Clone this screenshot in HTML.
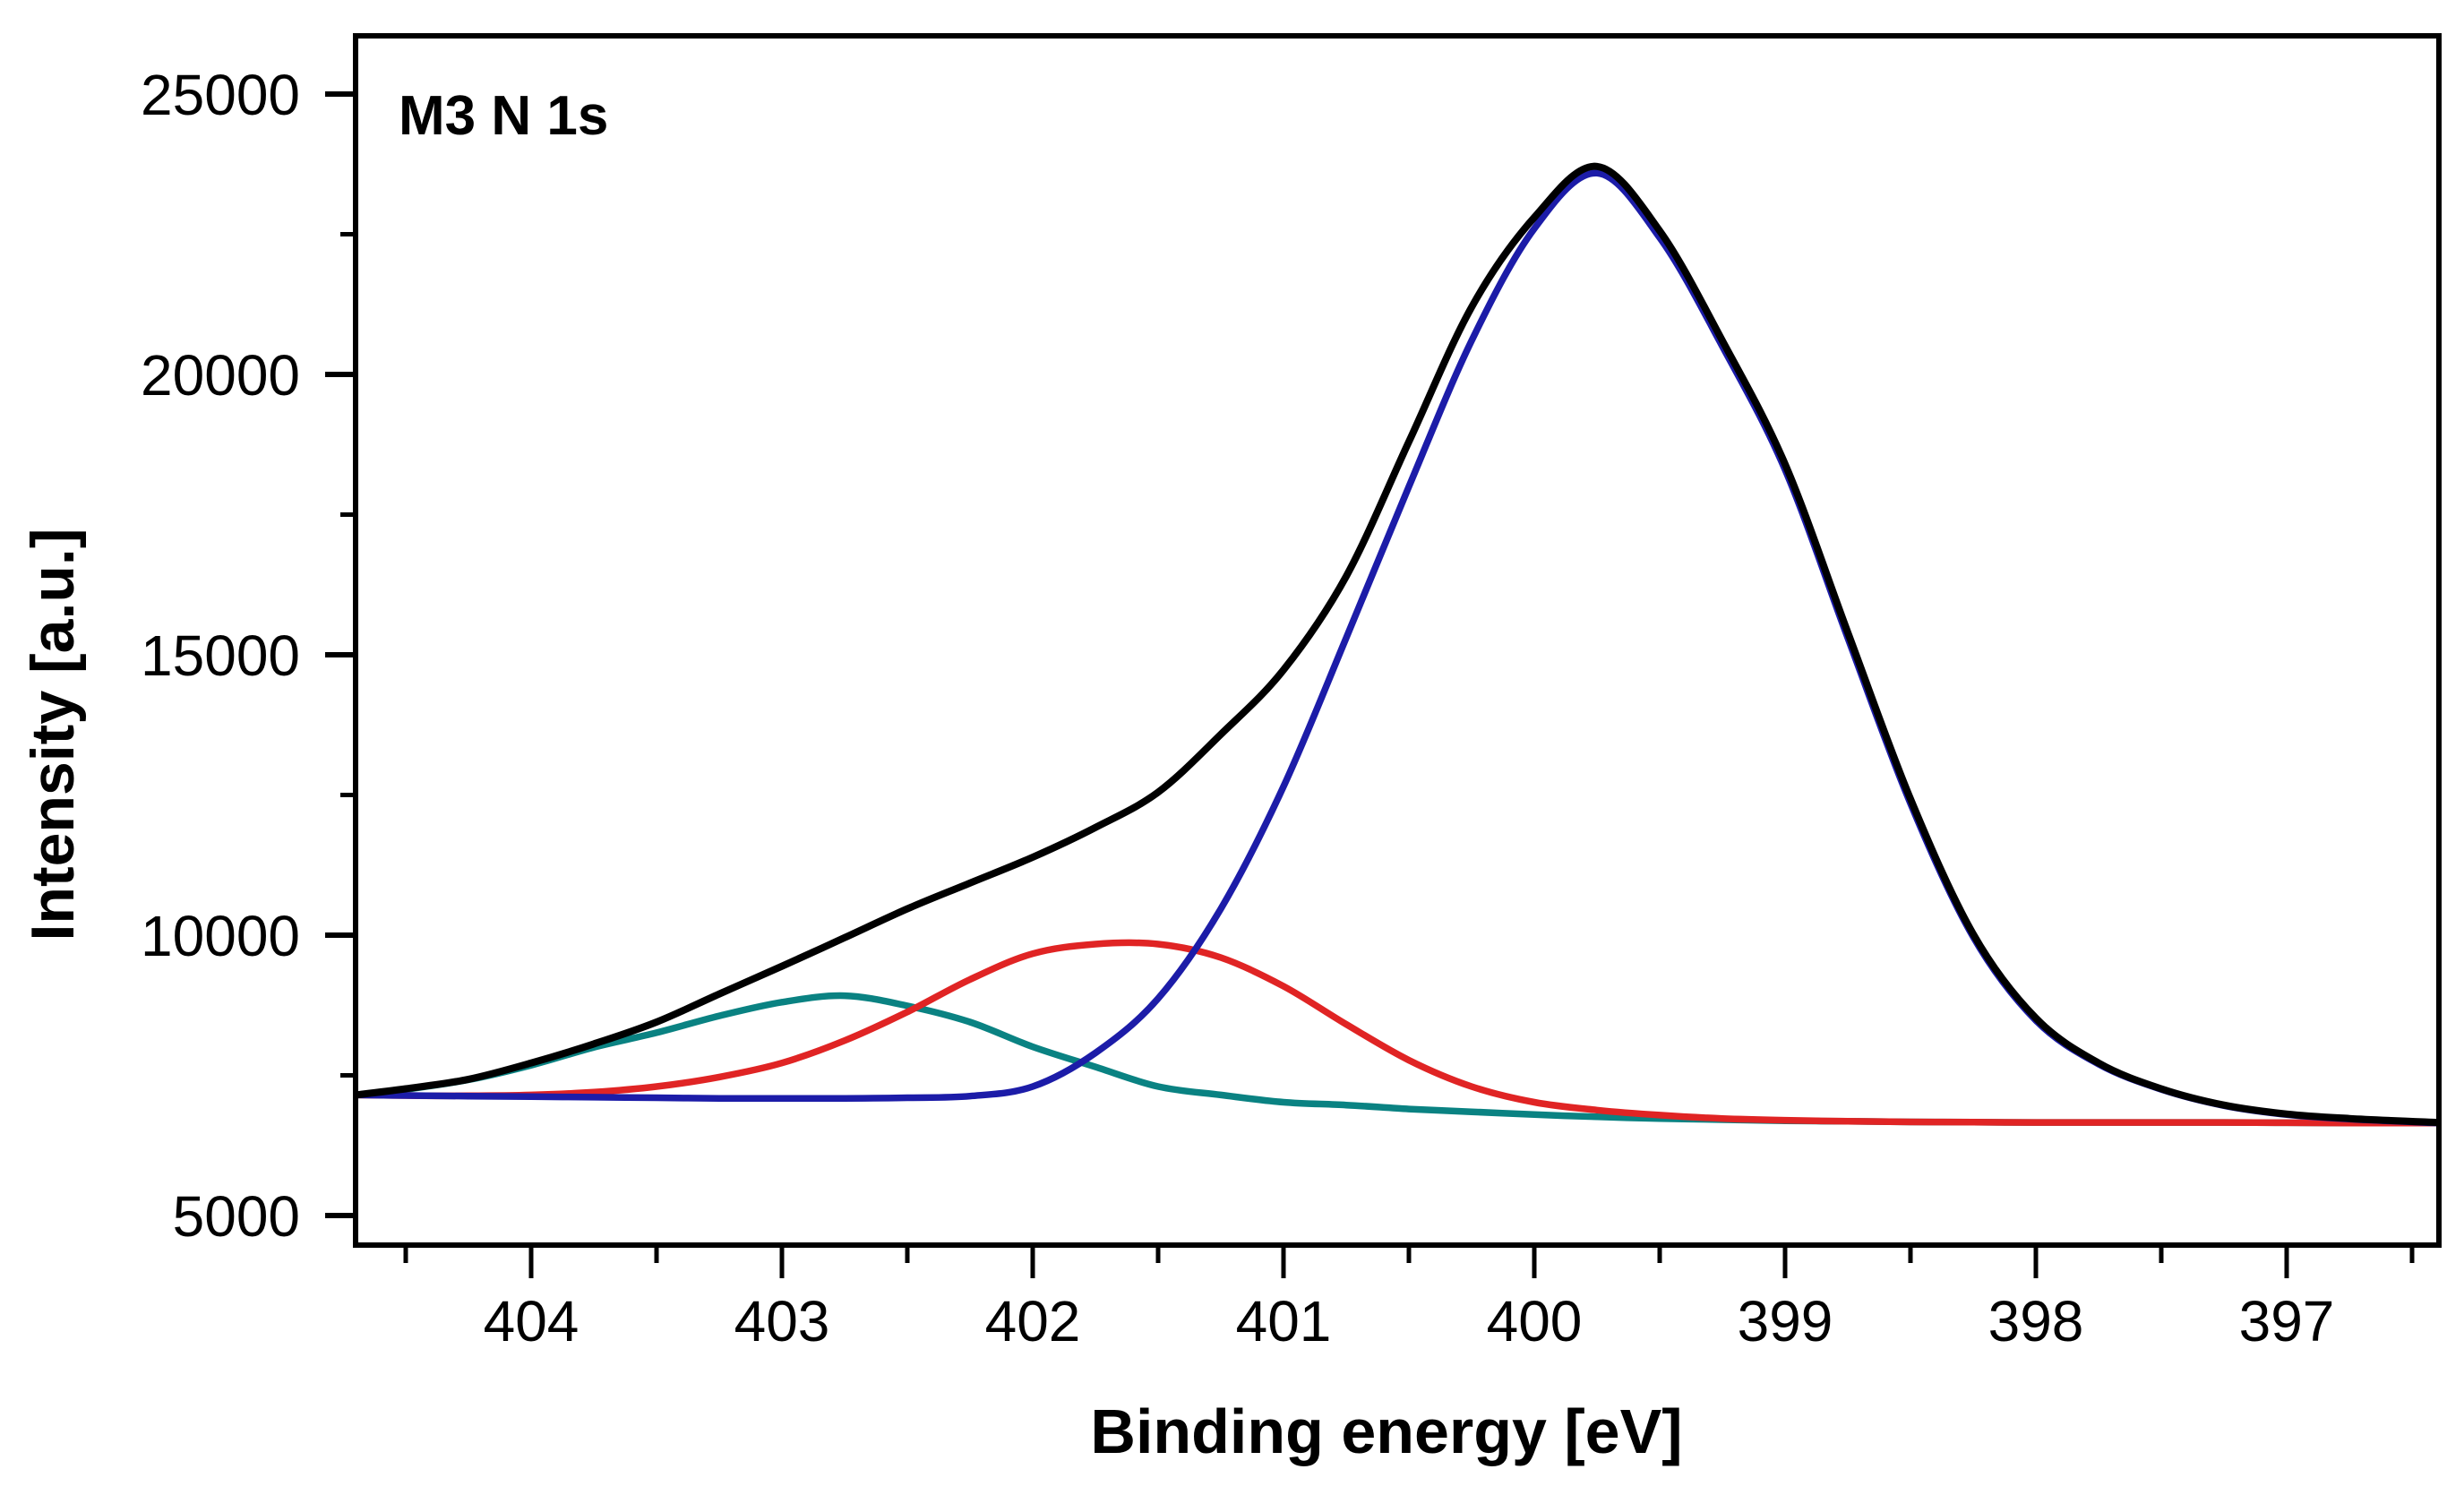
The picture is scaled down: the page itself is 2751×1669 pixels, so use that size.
<!DOCTYPE html>
<html>
<head>
<meta charset="utf-8">
<style>
html,body{margin:0;padding:0;background:#fff;}
svg{display:block;}
</style>
</head>
<body>
<svg id="chart" width="2751" height="1669" viewBox="0 0 2751 1669" xmlns="http://www.w3.org/2000/svg">
  <rect x="0" y="0" width="2751" height="1669" fill="#fff"/>
  <g id="curves"></g>
  <g id="axes"></g>
  <text x="445" y="150" font-family="Liberation Sans, sans-serif" font-weight="bold" font-size="62" fill="#000">M3 N 1s</text>
  <text x="1548" y="1622" text-anchor="middle" font-family="Liberation Sans, sans-serif" font-weight="bold" font-size="70" fill="#000">Binding energy [eV]</text>
  <text transform="translate(82,820) rotate(-90)" text-anchor="middle" font-family="Liberation Sans, sans-serif" font-weight="bold" font-size="68" fill="#000">Intensity [a.u.]</text>
</svg>
<script>
const energies = [404.7,404.5,404.25,404,403.75,403.5,403.25,403,402.75,402.5,402.25,402,401.75,401.5,401.25,401,400.75,400.5,400.25,400,399.75,399.5,399.25,399,398.75,398.5,398.25,398,397.75,397.5,397.25,397,396.75,396.4];
const envelope = [7150,7260,7430,7720,8060,8450,8950,9445,9955,10470,10930,11390,11920,12550,13580,14730,16400,18800,21200,22800,23710,22560,20600,18400,15400,12430,10020,8520,7720,7260,6970,6810,6730,6660];
const peakBlue = [7150,7140,7130,7120,7110,7100,7090,7090,7090,7100,7130,7300,7900,8870,10470,12650,15300,18000,20600,22600,23590,22440,20500,18300,15300,12350,9970,8480,7700,7250,6960,6800,6720,6650];
const peakRed = [7150,7140,7135,7150,7200,7300,7470,7720,8120,8630,9210,9670,9840,9840,9600,9090,8410,7770,7300,7020,6880,6790,6730,6700,6680,6670,6665,6660,6660,6660,6660,6655,6650,6650];
const peakTeal = [7150,7250,7420,7680,8000,8260,8560,8805,8920,8740,8450,8010,7650,7300,7150,7020,6970,6900,6850,6800,6760,6730,6710,6690,6680,6670,6665,6660,6660,6660,6660,6655,6650,6650];
const yTicks = [5000,10000,15000,20000,25000];
const yMinorTicks = [7500,12500,17500,22500];
const xTicks = [404,403,402,401,400,399,398,397];
const xMinorTicks = [404.5,403.5,402.5,401.5,400.5,399.5,398.5,397.5,396.5];

const PL=397, PT=40, PR=2723, PB=1390;
function xs(e){ return 593 + (404 - e) * 280; }
function ys(v){ return 105 + (25000 - v) * 313 / 5000; }
const NS='http://www.w3.org/2000/svg';
function mk(tag, attrs, parent){
  const el=document.createElementNS(NS,tag);
  for(const k in attrs) el.setAttribute(k, attrs[k]);
  parent.appendChild(el);
  return el;
}
function smoothPath(xv, yv){
  const p=xv.map((e,i)=>[xs(e), ys(yv[i])]);
  let d='M'+p[0][0].toFixed(1)+','+p[0][1].toFixed(1);
  for(let i=0;i<p.length-1;i++){
    const p0=p[i-1]||p[i], p1=p[i], p2=p[i+1], p3=p[i+2]||p[i+1];
    const c1x=p1[0]+(p2[0]-p0[0])/6, c1y=p1[1]+(p2[1]-p0[1])/6;
    const c2x=p2[0]-(p3[0]-p1[0])/6, c2y=p2[1]-(p3[1]-p1[1])/6;
    d+=' C'+c1x.toFixed(1)+','+c1y.toFixed(1)+' '+c2x.toFixed(1)+','+c2y.toFixed(1)+' '+p2[0].toFixed(1)+','+p2[1].toFixed(1);
  }
  return d;
}
const curves=document.getElementById('curves');
const cp=mk('clipPath',{id:'clip'},curves);
mk('rect',{x:PL,y:PT,width:PR-PL,height:PB-PT},cp);
const cg=mk('g',{'clip-path':'url(#clip)'},curves);

const pTeal=mk('path',{d:smoothPath(energies,peakTeal),fill:'none',stroke:'#0a8282','stroke-width':7.5,'stroke-linejoin':'round'},cg);


const pRed=mk('path',{d:smoothPath(energies,peakRed),fill:'none',stroke:'#e02424','stroke-width':7.5,'stroke-linejoin':'round'},cg);


const pBlue=mk('path',{d:smoothPath(energies,peakBlue),fill:'none',stroke:'#1c1ca8','stroke-width':7.5,'stroke-linejoin':'round'},cg);


const pEnv=mk('path',{d:smoothPath(energies,envelope),fill:'none',stroke:'#000','stroke-width':8,'stroke-linejoin':'round'},cg);



const axes=document.getElementById('axes');
const frame=mk('rect',{x:PL,y:PT,width:PR-PL,height:PB-PT,fill:'none',stroke:'#000','stroke-width':6},axes);



yTicks.forEach(v=>{
  const y=ys(v);
  const t=mk('line',{x1:PL-34,x2:PL,y1:y,y2:y,stroke:'#000','stroke-width':6},axes);
  
  
  const l=mk('text',{x:PL-62,y:y+23,'text-anchor':'end','font-family':'Liberation Sans, sans-serif','font-size':64,fill:'#000'},axes);
  l.textContent=String(v);
  
  
});
yMinorTicks.forEach(v=>{
  const y=ys(v);
  const t=mk('line',{x1:PL-17,x2:PL,y1:y,y2:y,stroke:'#000','stroke-width':5},axes);
  
  
});
xTicks.forEach(e=>{
  const x=xs(e);
  const t=mk('line',{x1:x,x2:x,y1:PB,y2:PB+37,stroke:'#000','stroke-width':5},axes);
  
  
  const l=mk('text',{x:x,y:1497,'text-anchor':'middle','font-family':'Liberation Sans, sans-serif','font-size':64,fill:'#000'},axes);
  l.textContent=String(e);
  
  
});
xMinorTicks.forEach(e=>{
  const x=xs(e);
  const t=mk('line',{x1:x,x2:x,y1:PB,y2:PB+20,stroke:'#000','stroke-width':5},axes);
  
  
});
</script>
</body>
</html>
